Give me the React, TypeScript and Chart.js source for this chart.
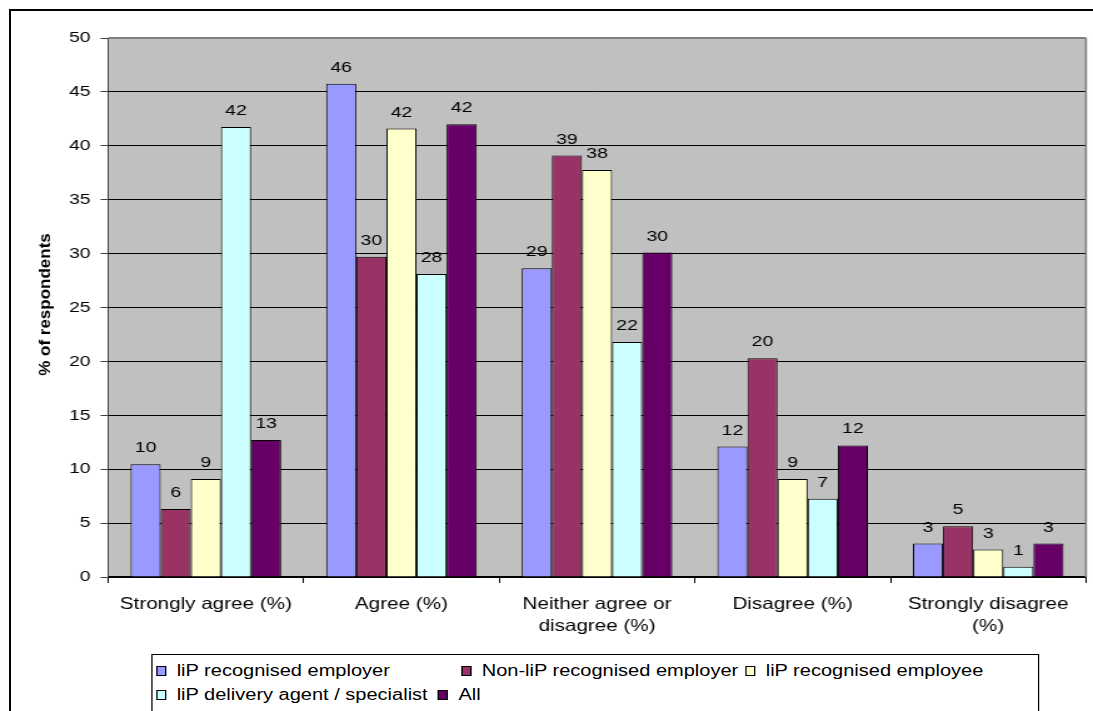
import { useEffect, useRef } from 'react';
import { Chart, registerables } from 'chart.js';

Chart.register(...registerables);

// Survey answer categories (multi-line labels as arrays)
const categories: string[][] = [
  ['Strongly agree (%)'],
  ['Agree (%)'],
  ['Neither agree or', 'disagree (%)'],
  ['Disagree (%)'],
  ['Strongly disagree', '(%)'],
];

// % of respondents per group
const recognisedEmployer = [10.45, 45.75, 28.65, 12.1, 3.1];
const nonRecognisedEmployer = [6.3, 29.7, 39.1, 20.3, 4.7];
const recognisedEmployee = [9.1, 41.6, 37.75, 9.1, 2.55];
const deliveryAgent = [41.75, 28.1, 21.8, 7.25, 0.95];
const allRespondents = [12.7, 42.0, 30.1, 12.2, 3.1];

const seriesNames = [
  'liP recognised employer',
  'Non-liP recognised employer',
  'liP recognised employee',
  'liP delivery agent / specialist',
  'All',
];
const seriesColors = ['#9999FF', '#993366', '#FFFFCC', '#CCFFFF', '#660066'];

const yAxisTitle = '% of respondents';
const yMin = 0;
const yMax = 50;
const yStep = 5;

const FONT = 'Arial, "Liberation Sans", Helvetica, sans-serif';
const PAGE_W = 1093;
const PAGE_H = 711;
const CANVAS_W = 874;
// text in this chart is set wide: the whole drawing is widened horizontally
const STRETCH = PAGE_W / CANVAS_W;

// legend slots (canvas units, relative to legend box)
const legendSlots = [
  { left: 3.2, top: 6 },
  { left: 247.1, top: 6 },
  { left: 474.2, top: 6 },
  { left: 3.2, top: 30 },
  { left: 228.5, top: 30 },
];

const plotFrame = {
  id: 'plotFrame',
  beforeDraw(chart: any) {
    const { ctx, chartArea: a } = chart;
    ctx.save();
    ctx.fillStyle = '#C0C0C0';
    ctx.fillRect(a.left, a.top, a.right - a.left, a.bottom - a.top);
    ctx.restore();
  },
  afterDraw(chart: any) {
    const { ctx, chartArea: a } = chart;
    ctx.save();
    ctx.strokeStyle = '#808080';
    ctx.lineWidth = 2;
    ctx.beginPath();
    ctx.moveTo(a.left, a.top);
    ctx.lineTo(a.right, a.top);
    ctx.stroke();
    ctx.lineWidth = 1.6;
    ctx.beginPath();
    ctx.moveTo(a.right, a.top);
    ctx.lineTo(a.right, a.bottom);
    ctx.stroke();
    ctx.restore();
  },
};

const valueLabels = {
  id: 'valueLabels',
  afterDatasetsDraw(chart: any) {
    const { ctx } = chart;
    ctx.save();
    ctx.font = `15.5px ${FONT}`;
    ctx.fillStyle = '#000';
    ctx.textAlign = 'center';
    ctx.textBaseline = 'alphabetic';
    chart.data.datasets.forEach((ds: any, i: number) => {
      chart.getDatasetMeta(i).data.forEach((bar: any, j: number) => {
        const v = ds.data[j] as number;
        ctx.fillText(String(Math.round(v)), bar.x, bar.y - 12);
      });
    });
    ctx.restore();
  },
};

// rotated y-axis title, kept at its natural width despite the horizontal widening
const axisTitle = {
  id: 'axisTitle',
  afterDraw(chart: any) {
    const { ctx, chartArea: a } = chart;
    ctx.save();
    ctx.translate(45 / STRETCH, (a.top + a.bottom) / 2 - 3);
    ctx.rotate(-Math.PI / 2);
    ctx.scale(1, 1 / STRETCH);
    ctx.font = `bold 17px ${FONT}`;
    ctx.fillStyle = '#000';
    ctx.textAlign = 'center';
    ctx.textBaseline = 'middle';
    ctx.fillText(yAxisTitle, 0, 0);
    ctx.restore();
  },
};

export default function App() {
  const canvasRef = useRef<HTMLCanvasElement | null>(null);

  useEffect(() => {
    if (!canvasRef.current) return;
    const seriesValues = [
      recognisedEmployer,
      nonRecognisedEmployer,
      recognisedEmployee,
      deliveryAgent,
      allRespondents,
    ];
    const chart = new Chart(canvasRef.current, {
      type: 'bar',
      data: {
        labels: categories,
        datasets: seriesValues.map((values, i) => ({
          label: seriesNames[i],
          data: values,
          backgroundColor: seriesColors[i],
          borderColor: '#000',
          borderWidth: 1,
          categoryPercentage: 0.77,
          barPercentage: 1,
        })),
      },
      options: {
        animation: false,
        responsive: false,
        devicePixelRatio: 1,
        layout: { padding: { left: 0, top: 38, right: 5.6, bottom: 64 } },
        plugins: {
          legend: { display: false },
          tooltip: { enabled: false },
        },
        scales: {
          x: {
            grid: {
              display: true,
              drawOnChartArea: false,
              drawTicks: true,
              tickLength: 6,
              color: '#000',
              offset: true,
            },
            border: { display: true, color: '#000', width: 1.5 },
            ticks: {
              color: '#000',
              font: { family: FONT, size: 16.5, lineHeight: 1.36 },
              padding: 10,
              maxRotation: 0,
              minRotation: 0,
              autoSkip: false,
            },
            afterFit(scale: any) {
              scale.height = 70;
            },
          },
          y: {
            min: yMin,
            max: yMax,
            ticks: {
              stepSize: yStep,
              color: '#000',
              font: { family: FONT, size: 15.5 },
              padding: 8,
            },
            grid: {
              color: '#000',
              lineWidth: 1,
              drawTicks: true,
              tickLength: 6,
              tickColor: '#404040',
            },
            border: { display: true, color: '#404040', width: 1 },
            afterFit(scale: any) {
              scale.width = 86.4;
            },
          },
        },
      },
      plugins: [plotFrame, valueLabels, axisTitle],
    } as any);
    return () => chart.destroy();
  }, []);

  return (
    <div
      style={{
        position: 'absolute',
        left: 0,
        top: 0,
        width: PAGE_W,
        height: PAGE_H,
        overflow: 'hidden',
        background: '#fff',
      }}
    >
      <div
        style={{
          position: 'absolute',
          left: 9,
          top: 9,
          width: 1110,
          height: 730,
          border: '2px solid #000',
          boxSizing: 'border-box',
        }}
      />
      <div
        style={{
          position: 'absolute',
          left: 0,
          top: 0,
          width: CANVAS_W,
          height: PAGE_H,
          transform: `scaleX(${STRETCH})`,
          transformOrigin: '0 0',
        }}
      >
        <canvas ref={canvasRef} width={CANVAS_W} height={PAGE_H} style={{ display: 'block' }} />
        <div
          style={{
            position: 'absolute',
            left: 120.7,
            top: 654,
            width: 710,
            height: 90,
            border: '1px solid #000',
            boxSizing: 'border-box',
            background: '#fff',
          }}
        >
          {seriesNames.map((name, i) => (
            <div
              key={name}
              style={{
                position: 'absolute',
                left: legendSlots[i].left,
                top: legendSlots[i].top,
                height: 20,
                display: 'flex',
                alignItems: 'center',
                whiteSpace: 'nowrap',
                font: `16px ${FONT}`,
                color: '#000',
              }}
            >
              <span
                style={{
                  display: 'inline-block',
                  width: 8,
                  height: 10,
                  background: seriesColors[i],
                  border: '1px solid #000',
                  boxSizing: 'border-box',
                  marginRight: 8.4,
                }}
              />
              {name}
            </div>
          ))}
        </div>
      </div>
    </div>
  );
}
